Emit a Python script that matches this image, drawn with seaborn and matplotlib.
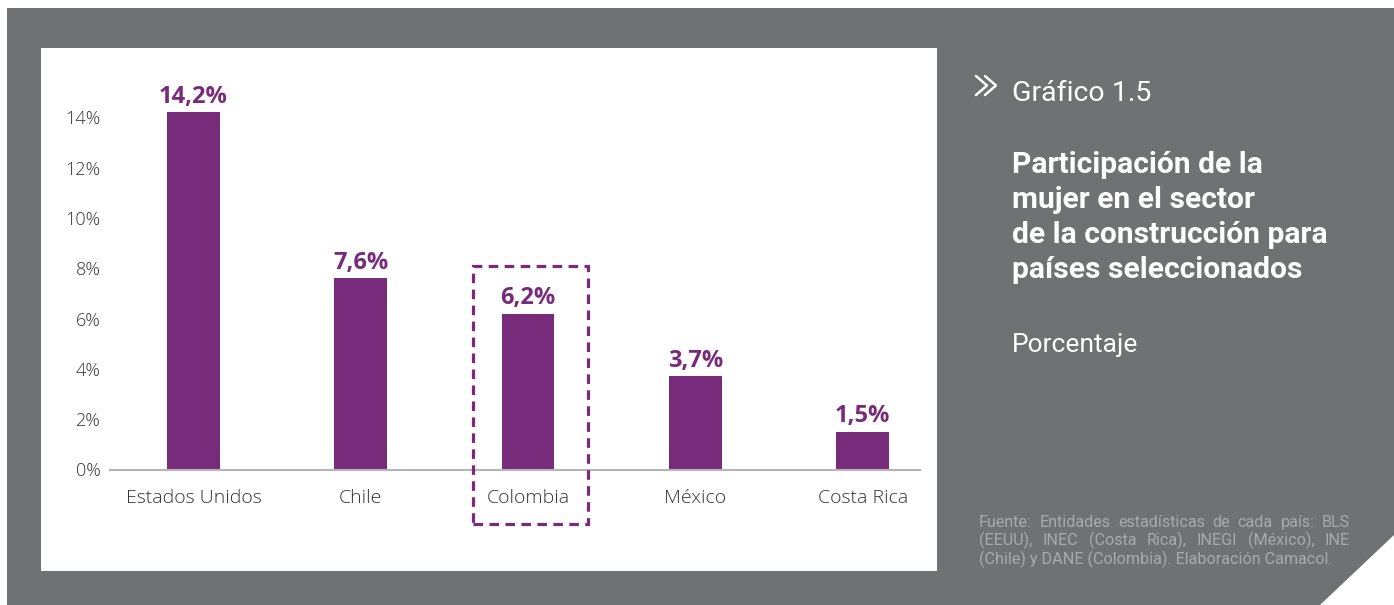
import matplotlib
matplotlib.use("Agg")
import matplotlib.pyplot as plt
import seaborn as sns
import pandas as pd
from matplotlib.patches import Rectangle, Polygon
from matplotlib.lines import Line2D

# ---- data ----
countries = ["Estados Unidos", "Chile", "Colombia", "México", "Costa Rica"]
values = [14.2, 7.6, 6.2, 3.7, 1.5]
value_labels = ["14,2%", "7,6%", "6,2%", "3,7%", "1,5%"]
yticks = [0, 2, 4, 6, 8, 10, 12, 14]
ytick_labels = ["0%", "2%", "4%", "6%", "8%", "10%", "12%", "14%"]
highlight = "Colombia"

chart_number = "Gráfico 1.5"
title_lines = ["Participación de la", "mujer en el sector",
               "de la construcción para", "países seleccionados"]
subtitle = "Porcentaje"
source_lines = ["Fuente: Entidades estadísticas de cada país: BLS",
                "(EEUU), INEC (Costa Rica), INEGI (México), INE",
                "(Chile) y DANE (Colombia). Elaboración Camacol."]

W, H = 1394, 605
PURPLE = "#782a7b"
GRAY = "#707173"

sns.set_theme(style="white")
plt.rcParams["font.family"] = ["Open Sans", "DejaVu Sans"]

fig = plt.figure(figsize=(W / 100, H / 100), dpi=100, facecolor="white")


def fx(px):
    return px / W


def fy(py):
    return 1 - py / H


# background decorations
fig.patches.append(Rectangle((fx(7), 0), 1 - fx(7), fy(8), transform=fig.transFigure,
                             facecolor=GRAY, edgecolor="none", zorder=-10))
fig.patches.append(Rectangle((fx(41), fy(571)), fx(937) - fx(41), fy(48) - fy(571),
                             transform=fig.transFigure, facecolor="white",
                             edgecolor="none", zorder=-9))
fig.patches.append(Polygon([(fx(1320), 0), (1, 0), (1, fy(535))], closed=True,
                           transform=fig.transFigure, facecolor="white",
                           edgecolor="none", zorder=-9))

# axes
y0 = 469.5
ppu = 25.15
ytop = 16
ax = fig.add_axes([fx(110), fy(y0), fx(920) - fx(110), ytop * ppu / H])
ax.set_facecolor("none")

df = pd.DataFrame({"pais": countries, "valor": values})
sns.barplot(data=df, x="pais", y="valor", color=PURPLE, saturation=1,
            width=0.315, edgecolor="none", ax=ax)

ax.set_xlim(-0.4985, 4.3425)
ax.set_ylim(0, ytop)
ax.set_yticks(yticks)
ax.set_yticklabels(ytick_labels)
ax.set_xlabel("")
ax.set_ylabel("")
ax.tick_params(axis="y", length=0, pad=7, labelsize=13, labelcolor="#333333")
ax.tick_params(axis="x", length=0, pad=14, labelsize=14, labelcolor="#333333")
for lab in ax.get_xticklabels() + ax.get_yticklabels():
    lab.set_fontweight("light")
for s in ["top", "right", "left"]:
    ax.spines[s].set_visible(False)
ax.spines["bottom"].set_color("#b5b5b5")
ax.spines["bottom"].set_linewidth(1.5)

for i, (v, lab) in enumerate(zip(values, value_labels)):
    ax.annotate(lab, (i, v), xytext=(0, 7), textcoords="offset points",
                ha="center", va="baseline", fontsize=17, fontweight="bold",
                color=PURPLE)

# highlight box around Colombia
hi = countries.index(highlight)
bx0, bx1 = hi - 0.331, hi + 0.356
by0, by1 = -(524 - y0) / ppu, (y0 - 265.7) / ppu
ax.add_patch(Rectangle((bx0, by0), bx1 - bx0, by1 - by0, fill=False,
                       edgecolor=PURPLE, linewidth=2.3, linestyle=(0, (3, 2)),
                       clip_on=False, zorder=5))

# right-side texts
for off in (0, 9):
    fig.lines.append(Line2D([fx(976 + off), fx(987 + off), fx(976 + off)],
                            [fy(76), fy(85.5), fy(95)], transform=fig.transFigure,
                            color="white", linewidth=1.8))
RFONT = ["Roboto", "DejaVu Sans"]
fig.text(fx(1012), fy(101), chart_number, fontsize=20.5, color="white",
         family=RFONT, va="baseline", ha="left")
for i, line in enumerate(title_lines):
    fig.text(fx(1012), fy(173.3 + 35 * i), line, fontsize=21.6, fontweight="bold",
             color="white", family=RFONT, va="baseline", ha="left")
fig.text(fx(1012), fy(352.3), subtitle, fontsize=19, color="white",
         family=RFONT, va="baseline", ha="left")

# justified source text
fig.canvas.draw()
r = fig.canvas.get_renderer()
sx0, sx1 = 979, 1350
for i, line in enumerate(source_lines):
    y = fy(526.7 + 18.7 * i)
    kw = dict(fontsize=11.6, color="#a9aaac", family=RFONT,
              va="baseline", ha="left")
    if i < len(source_lines) - 1:
        words = line.split(" ")
        ts = [fig.text(0, y, w, **kw) for w in words]
        ws = [t.get_window_extent(r).width for t in ts]
        gap = (sx1 - sx0 - sum(ws)) / (len(words) - 1)
        x = sx0
        for t, w in zip(ts, ws):
            t.set_x(fx(x))
            x += w + gap
    else:
        fig.text(fx(sx0), y, line, **kw)

fig.savefig("out.png", dpi=100, facecolor="white")
